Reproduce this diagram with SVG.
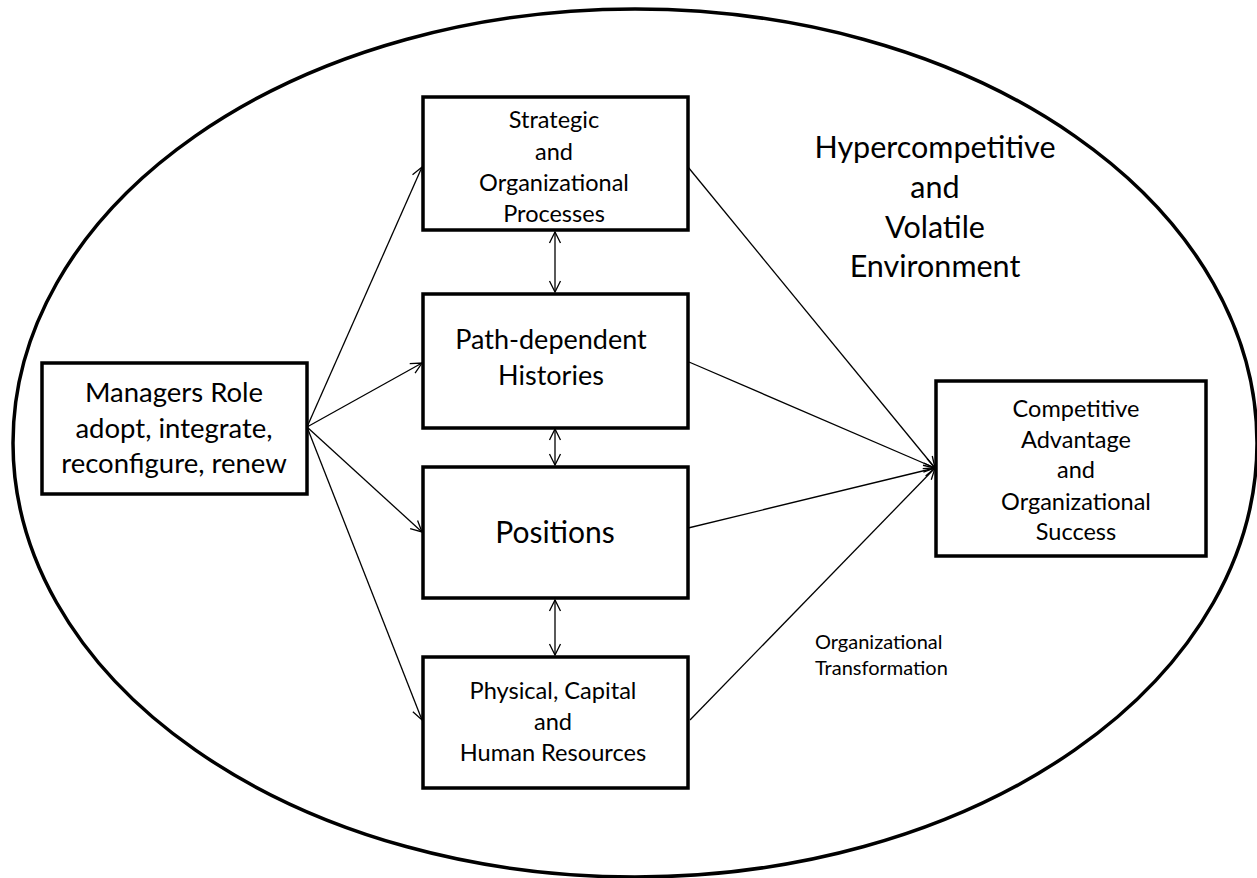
<svg xmlns="http://www.w3.org/2000/svg" width="1257" height="878" viewBox="0 0 1257 878">
<style>
.box{fill:#fff;stroke:#000;stroke-width:3.5}
.env{fill:#fff;stroke:#000;stroke-width:3.5}
.t{font-family:Lato,"Liberation Sans",sans-serif;fill:#000;text-anchor:middle}
.c{stroke:#000;stroke-width:1.3;fill:none}
</style>
<defs>
<marker id="ah" markerUnits="userSpaceOnUse" markerWidth="14" markerHeight="14" viewBox="0 0 14 14" refX="12" refY="7" orient="auto-start-reverse">
<path d="M1,1.5 L12,7 L1,12.5" fill="none" stroke="#000" stroke-width="1.3"/>
</marker>
</defs>
<g id="environment">
<ellipse class="env" cx="635" cy="443" rx="622" ry="434"/>
<text class="t" font-size="30.5"><tspan x="935" y="158">Hypercompetitive</tspan><tspan x="935" y="198">and</tspan><tspan x="935" y="238">Volatile</tspan><tspan x="935" y="277">Environment</tspan></text>
</g>
<g id="connectors">
<line class="c" x1="307" y1="427" x2="422" y2="167" marker-end="url(#ah)"/>
<line class="c" x1="307" y1="427" x2="422" y2="363" marker-end="url(#ah)"/>
<line class="c" x1="307" y1="427" x2="422" y2="532" marker-end="url(#ah)"/>
<line class="c" x1="307" y1="427" x2="422" y2="720" marker-end="url(#ah)"/>
<line class="c" x1="555" y1="232" x2="555" y2="292" marker-start="url(#ah)" marker-end="url(#ah)"/>
<line class="c" x1="555" y1="429" x2="555" y2="465" marker-start="url(#ah)" marker-end="url(#ah)"/>
<line class="c" x1="555" y1="600" x2="555" y2="655" marker-start="url(#ah)" marker-end="url(#ah)"/>
<line class="c" x1="688" y1="167" x2="935" y2="468" marker-end="url(#ah)"/>
<line class="c" x1="689" y1="362" x2="935" y2="468" marker-end="url(#ah)"/>
<line class="c" x1="684" y1="529" x2="935" y2="468" marker-end="url(#ah)"/>
<line class="c" x1="690" y1="720" x2="935" y2="468" marker-end="url(#ah)"/>
</g>
<g id="managers">
<rect class="box" x="42" y="363" width="265" height="131"/>
<text class="t" font-size="27.5"><tspan x="174" y="402">Managers Role</tspan><tspan x="174" y="438">adopt, integrate,</tspan><tspan x="174" y="473">reconfigure, renew</tspan></text>
</g>
<g id="strategic">
<rect class="box" x="423" y="97" width="265" height="133"/>
<text class="t" font-size="23.5"><tspan x="554" y="128">Strategic</tspan><tspan x="554" y="160">and</tspan><tspan x="554" y="191">Organizational</tspan><tspan x="554" y="222">Processes</tspan></text>
</g>
<g id="path">
<rect class="box" x="423" y="294" width="265" height="134"/>
<text class="t" font-size="27"><tspan x="551" y="349">Path-dependent</tspan><tspan x="551" y="385">Histories</tspan></text>
</g>
<g id="positions">
<rect class="box" x="423" y="467" width="265" height="131"/>
<text class="t" font-size="30" x="555" y="543">Positions</text>
</g>
<g id="physical">
<rect class="box" x="423" y="657" width="265" height="131"/>
<text class="t" font-size="23.6"><tspan x="553" y="699">Physical, Capital</tspan><tspan x="553" y="730">and</tspan><tspan x="553" y="761">Human Resources</tspan></text>
</g>
<g id="competitive">
<rect class="box" x="936" y="381" width="270" height="175"/>
<text class="t" font-size="23.5"><tspan x="1076" y="417">Competitive</tspan><tspan x="1076" y="448">Advantage</tspan><tspan x="1076" y="478">and</tspan><tspan x="1076" y="510">Organizational</tspan><tspan x="1076" y="540">Success</tspan></text>
</g>
<g id="transformation">
<text class="t" font-size="20" style="text-anchor:start"><tspan x="815" y="649">Organizational</tspan><tspan x="815" y="675">Transformation</tspan></text>
</g>
</svg>
